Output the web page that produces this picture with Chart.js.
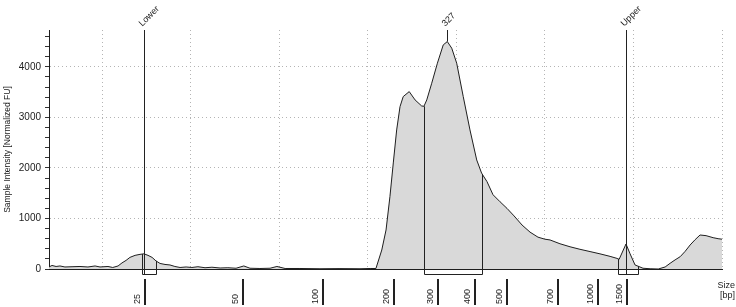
<!DOCTYPE html>
<html>
<head>
<meta charset="utf-8">
<script src="https://cdn.jsdelivr.net/npm/chart.js@4/dist/chart.umd.min.js"></script>
<style>
    body { margin: 0; background: #fff; }
    #wrap { width: 736px; height: 307px; }
</style>
</head>
<body>
<div id="wrap"><canvas id="electropherogram" width="736" height="307"></canvas></div>
<script>
// migration time (s) and sample intensity (FU)
let timeSec = [
    22.0, 22.17, 22.4, 22.62, 22.9, 23.3, 23.75, 24.2, 24.6, 24.88, 25.33, 25.6, 25.9,
    26.12, 26.35, 26.57, 26.86, 27.14, 27.36, 27.59, 27.82, 28.04, 28.27, 28.55, 28.83,
    29.11, 29.4, 29.74, 30.07, 30.41, 30.81, 31.2, 31.66, 32.1, 32.56, 33.0, 33.35, 33.91, 34.48, 34.87, 35.33, 36.17, 37.3, 38.43, 39.56, 40.13, 40.46,
    40.79, 41.03, 41.25, 41.44, 41.63, 41.82, 42.0, 42.34, 42.67, 43.04, 43.17, 43.33, 43.61, 43.93, 44.26, 44.49, 44.74, 45.02, 45.39, 45.77, 46.15, 46.43,
    46.73, 47.07, 47.47, 47.86, 48.26, 48.71, 49.16, 49.61, 50.0, 50.29, 50.85, 51.42, 51.98, 52.55, 53.11, 53.68, 54.07, 54.19,
    54.58, 54.81, 55.09, 55.54, 55.94, 56.4, 56.79, 57.07, 57.35, 57.64, 57.92, 58.2, 58.48, 58.76, 59.1, 59.5, 59.78, 60.0,
];
let intensityFU = [
    40, 70, 50, 60, 40, 45, 50, 40, 60, 40, 50, 30, 60,
    120, 170, 230, 270, 290, 300, 270, 230, 160, 110, 90, 80,
    50, 30, 40, 30, 45, 25, 35, 20, 25, 15, 60, 15, 10, 15, 50, 10, 10, 5, 8, 5, 10, 10,
    376, 772, 1432, 2099, 2752, 3214, 3412, 3511, 3346, 3227, 3220, 3346, 3677, 4073, 4435, 4501, 4370, 4073, 3412, 2752, 2158, 1894,
    1730, 1470, 1330, 1200, 1050, 870, 730, 630, 590, 575, 500, 440, 390, 345, 300, 250, 210, 190,
    495, 300, 80, 15, 5, 0, 40, 113, 180, 244, 350, 475, 580, 673, 660, 620, 600, 590,
];

// ladder sizes (bp) and where they sit on the time axis
let ladderLabels = ['25', '50', '100', '200', '300', '400', '500', '700', '1000', '1500'];
let ladderTime = [27.38, 32.91, 37.40, 41.44, 43.93, 46.01, 47.79, 50.70, 52.96, 54.58];

// called peaks
let peakLabels = ['Lower', '327', 'Upper'];
let peakTime = [27.36, 44.49, 54.58];
let regionStart = [27.25, 43.17, 54.13];
let regionEnd = [28.04, 46.45, 55.26];

let yTickValues = [0, 1000, 2000, 3000, 4000];

const FONT = "'Liberation Sans', Arial, sans-serif";

function curveAt(t) {
    for (let i = 1; i < timeSec.length; i++) {
        if (t <= timeSec[i]) {
            let f = (t - timeSec[i - 1]) / (timeSec[i] - timeSec[i - 1]);
            return intensityFU[i - 1] + f * (intensityFU[i] - intensityFU[i - 1]);
        }
    }
    return intensityFU[intensityFU.length - 1];
}

const markerPlugin = {
    id: 'markerPlugin',
    afterDraw(chart) {
        let ctx = chart.ctx;
        let xs = chart.scales.x, ys = chart.scales.y;
        let area = chart.chartArea;
        let base = ys.getPixelForValue(0);

        ctx.save();
        ctx.strokeStyle = '#222';
        ctx.lineWidth = 1;

        // peak regions (boxes hanging under the baseline)
        regionStart.forEach((a, i) => {
            let b = regionEnd[i];
            let xa = Math.round(xs.getPixelForValue(a)) + 0.5;
            let xb = Math.round(xs.getPixelForValue(b)) + 0.5;
            ctx.beginPath();
            ctx.moveTo(xa, ys.getPixelForValue(curveAt(a)));
            ctx.lineTo(xa, base + 5.5);
            ctx.lineTo(xb, base + 5.5);
            ctx.lineTo(xb, ys.getPixelForValue(curveAt(b)));
            ctx.stroke();
        });

        // peak marker lines and rotated labels
        peakLabels.forEach((label, i) => {
            let px = Math.round(xs.getPixelForValue(peakTime[i])) + 0.5;
            let end = (label === 'Lower' || label === 'Upper') ? base + 5 : ys.getPixelForValue(curveAt(peakTime[i]));
            ctx.beginPath();
            ctx.moveTo(px, area.top);
            ctx.lineTo(px, end);
            ctx.stroke();

            ctx.save();
            ctx.translate(px - 4, area.top - 5);
            ctx.rotate(-Math.PI / 4);
            ctx.fillStyle = '#222';
            ctx.font = '9px ' + FONT;
            ctx.textAlign = 'left';
            ctx.textBaseline = 'middle';
            ctx.fillText(label, 0, 0);
            ctx.restore();
        });

        // ladder ticks and size labels under the axis
        ladderLabels.forEach((label, i) => {
            let px = Math.round(xs.getPixelForValue(ladderTime[i]));
            ctx.fillStyle = '#222';
            ctx.fillRect(px, base + 10, 2, 26);
            ctx.save();
            ctx.translate(px - 2, base + 35);
            ctx.rotate(-Math.PI / 2);
            ctx.font = '9px ' + FONT;
            ctx.textAlign = 'left';
            ctx.textBaseline = 'bottom';
            ctx.fillText(label, 0, 0);
            ctx.restore();
        });

        ctx.fillStyle = '#222';
        ctx.font = '9px ' + FONT;
        ctx.textAlign = 'right';
        ctx.textBaseline = 'middle';
        ctx.fillText('Size', 735, base + 17);
        ctx.fillText('[bp]', 735, base + 27);
        ctx.restore();
    }
};

new Chart(document.getElementById('electropherogram'), {
    type: 'line',
    data: {
        datasets: [{
            label: 'Sample',
            data: timeSec.map((t, i) => ({ x: t, y: intensityFU[i] })),
            borderColor: '#1e1e1e',
            borderWidth: 1,
            backgroundColor: '#d9d9d9',
            fill: 'origin',
            pointRadius: 0,
            tension: 0,
        }]
    },
    options: {
        responsive: false,
        animation: false,
        layout: { padding: { top: 30, right: 14, bottom: 38, left: 0 } },
        plugins: {
            legend: { display: false },
            tooltip: { enabled: false },
        },
        scales: {
            x: {
                type: 'linear',
                min: 22,
                max: 60,
                ticks: { display: false, stepSize: 5 },
                grid: {
                    color: (c) => c.tick && c.tick.value > 22 ? '#b4b4b4' : 'rgba(0,0,0,0)',
                    drawTicks: false,
                },
                border: { display: true, color: '#1e1e1e', width: 1, dash: [1, 3] },
            },
            y: {
                min: 0,
                max: 4730,
                afterFit: (scale) => { scale.width = 49; },
                afterBuildTicks: (scale) => {
                    let t = [];
                    for (let v = 0; v <= 4600; v += 200) t.push({ value: v });
                    scale.ticks = t;
                },
                ticks: {
                    autoSkip: false,
                    padding: 4,
                    color: '#222',
                    font: { family: FONT, size: 10 },
                    callback: (v) => yTickValues.includes(v) ? String(v) : '',
                },
                grid: {
                    color: (c) => c.tick && c.tick.value > 0 && c.tick.value % 1000 === 0 ? '#b4b4b4' : 'rgba(0,0,0,0)',
                    tickColor: '#333',
                    tickLength: 4,
                },
                border: { display: true, color: '#1e1e1e', width: 1, dash: [1, 3] },
                title: {
                    display: true,
                    text: 'Sample Intensity [Normalized FU]',
                    color: '#222',
                    font: { family: FONT, size: 8.5 },
                    padding: { top: 3, bottom: 0 },
                },
            },
        },
    },
    plugins: [markerPlugin],
});
</script>
</body>
</html>
